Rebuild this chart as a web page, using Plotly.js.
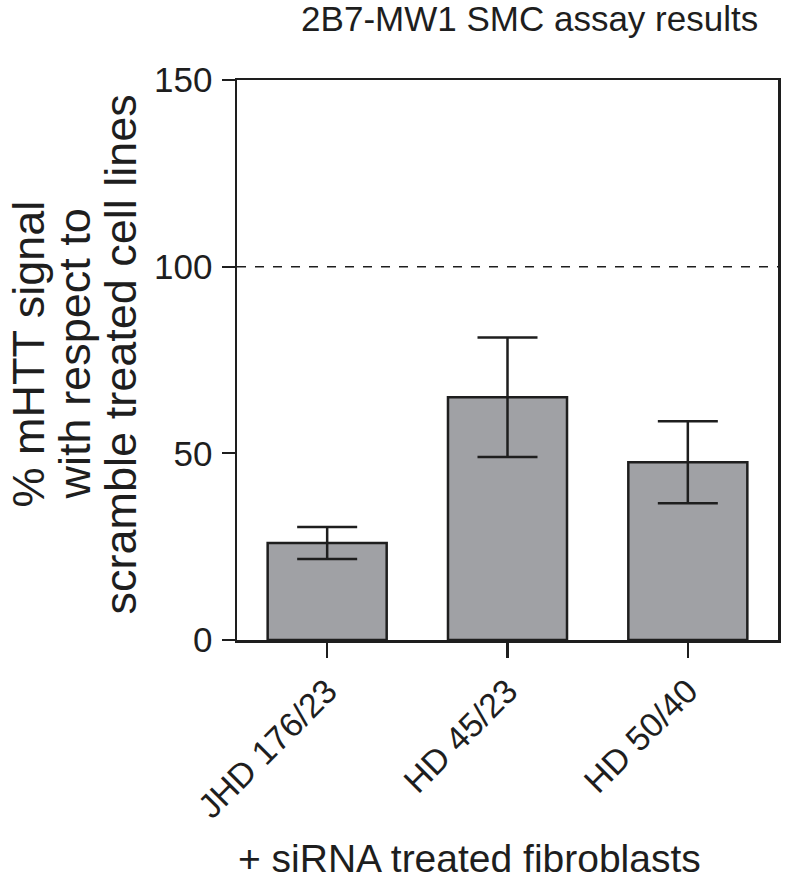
<!DOCTYPE html>
<html>
<head>
<meta charset="utf-8">
<script src="https://cdn.plot.ly/plotly-3.0.1.min.js"></script>
<style>
  html, body { margin: 0; padding: 0; background: #fff; }
  #chart { width: 787px; height: 883px; }
</style>
</head>
<body>
<div id="chart"></div>
<script>
const cellLines = ['JHD 176/23', 'HD 45/23', 'HD 50/40'];
const signalPct = [26, 65, 47.6];
const signalErr = [4.3, 16, 11];
const yTicks = [0, 50, 100, 150];
const referenceLevel = 100;
// y title is drawn as three rotated lines so the line spacing can be tight
const yTitleLines = ['% mHTT signal', 'with respect to', 'scramble treated cell lines'];
const yTitleShift = [-209, -163, -117];
const xTitle = '+ siRNA treated fibroblasts';

const FONT = 'Liberation Sans, Arial, sans-serif';
const INK = '#1e1e1e';

const trace = {
  x: cellLines,
  y: signalPct,
  type: 'bar',
  marker: {color: '#a0a1a5', line: {color: INK, width: 2.5}},
  error_y: {type: 'data', array: signalErr, visible: true, color: INK, thickness: 2.5, width: 30},
  hoverinfo: 'none'
};

const annotations = yTitleLines.map((line, i) => ({
  text: line,
  xref: 'paper', x: 0, xanchor: 'center', xshift: yTitleShift[i],
  yref: 'paper', y: 0.51, yanchor: 'middle',
  textangle: -90,
  showarrow: false,
  font: {size: 45, family: FONT, color: INK}
}));

// x axis title, sits a little left of the plot centre as in the original
annotations.push({
  text: xTitle,
  xref: 'paper', x: 0.43, xanchor: 'center',
  yref: 'paper', y: -0.39, yanchor: 'middle',
  showarrow: false,
  font: {size: 39, family: FONT, color: INK}
});

const layout = {
  width: 787,
  height: 883,
  margin: {l: 237, r: 9, t: 80, b: 243},
  paper_bgcolor: '#fff',
  plot_bgcolor: '#fff',
  showlegend: false,
  bargap: 0.34,
  font: {family: FONT, color: INK},
  title: {
    text: '2B7-MW1 SMC assay results',
    font: {size: 35, family: FONT, color: INK},
    xref: 'container', x: 0.673, xanchor: 'center',
    yref: 'container', y: 0.979, yanchor: 'middle'
  },
  xaxis: {
    type: 'category',
    range: [-0.5, 2.5],
    showline: true, mirror: true, linecolor: INK, linewidth: 2.5,
    ticks: 'outside', ticklen: 15, tickwidth: 2.5, tickcolor: INK,
    tickangle: -45,
    tickfont: {size: 34, family: FONT, color: INK},
    showgrid: false, zeroline: false
  },
  yaxis: {
    range: [0, 150],
    tickvals: yTicks,
    showline: true, mirror: true, linecolor: INK, linewidth: 2.5,
    ticks: 'outside', ticklen: 13, tickwidth: 2, tickcolor: INK,
    ticklabelstandoff: 2,
    tickfont: {size: 35, family: FONT, color: INK},
    showgrid: false, zeroline: false
  },
  annotations: annotations,
  shapes: [{
    type: 'line', xref: 'paper', x0: 0, x1: 1, yref: 'y', y0: referenceLevel, y1: referenceLevel,
    line: {color: INK, width: 1.5, dash: 'dash'}
  }]
};

Plotly.newPlot('chart', [trace], layout, {staticPlot: true});
</script>
</body>
</html>
